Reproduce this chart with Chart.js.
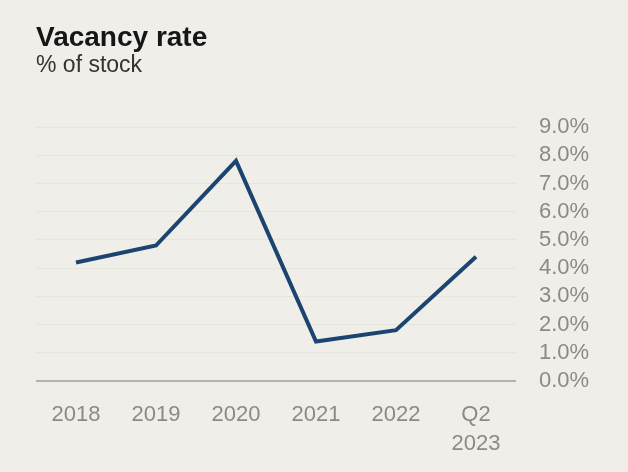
<!DOCTYPE html>
<html>
<head>
<meta charset="utf-8">
<script src="https://cdn.jsdelivr.net/npm/chart.js@4.4.1/dist/chart.umd.min.js"></script>
<style>
  html, body { margin: 0; padding: 0; background: #efeee8; }
  #wrap { width: 628px; height: 472px; }
</style>
</head>
<body>
<div id="wrap"><canvas id="vacancy"></canvas></div>
<script>
// Vacancy rate, % of stock
const periods = ["2018", "2019", "2020", "2021", "2022", ["Q2", "2023"]];
const vacancyRate = [4.2, 4.8, 7.8, 1.4, 1.8, 4.4];
const rateTicks = [0, 1, 2, 3, 4, 5, 6, 7, 8, 9];

const tickFont = { family: "'Liberation Sans', Arial, sans-serif", size: 22 };

new Chart(document.getElementById("vacancy"), {
  type: "line",
  data: {
    labels: periods,
    datasets: [{
      data: vacancyRate,
      borderColor: "#1b4570",
      borderWidth: 4,
      borderJoinStyle: "miter",
      pointRadius: 0,
      tension: 0,
      fill: false
    }]
  },
  options: {
    responsive: true,
    maintainAspectRatio: false,
    animation: false,
    layout: { padding: { left: 36, right: 0, top: 0, bottom: 0 } },
    plugins: {
      legend: { display: false },
      tooltip: { enabled: false },
      title: {
        display: true,
        text: "Vacancy rate",
        align: "start",
        color: "#161616",
        font: { family: "'Liberation Sans', Arial, sans-serif", size: 28, weight: "bold", lineHeight: 1 },
        padding: { top: 24, bottom: 2 }
      },
      subtitle: {
        display: true,
        text: "% of stock",
        align: "start",
        color: "#333333",
        font: { family: "'Liberation Sans', Arial, sans-serif", size: 23, lineHeight: 1 },
        padding: { top: 0, bottom: 50 }
      }
    },
    scales: {
      x: {
        offset: true,
        grid: { display: false },
        border: { display: false },
        ticks: {
          color: "#8a8a8a",
          font: { ...tickFont, lineHeight: 1.3 },
          padding: 12,
          maxRotation: 0,
          autoSkip: false
        },
        afterFit: (scale) => { scale.height = 91; }
      },
      y: {
        position: "right",
        min: 0,
        max: 9,
        afterBuildTicks: (scale) => { scale.ticks = rateTicks.map(v => ({ value: v })); },
        grid: {
          drawTicks: false,
          color: (ctx) => ctx.tick && ctx.tick.value === 0 ? "#b3b2ab" : "#e5e4dd",
          lineWidth: (ctx) => ctx.tick && ctx.tick.value === 0 ? 2 : 1
        },
        border: { display: false },
        ticks: {
          color: "#8a8a8a",
          font: tickFont,
          padding: 23,
          autoSkip: false,
          callback: (v) => v.toFixed(1) + "%"
        },
        afterFit: (scale) => { scale.width = 112; }
      }
    }
  }
});
</script>
</body>
</html>
